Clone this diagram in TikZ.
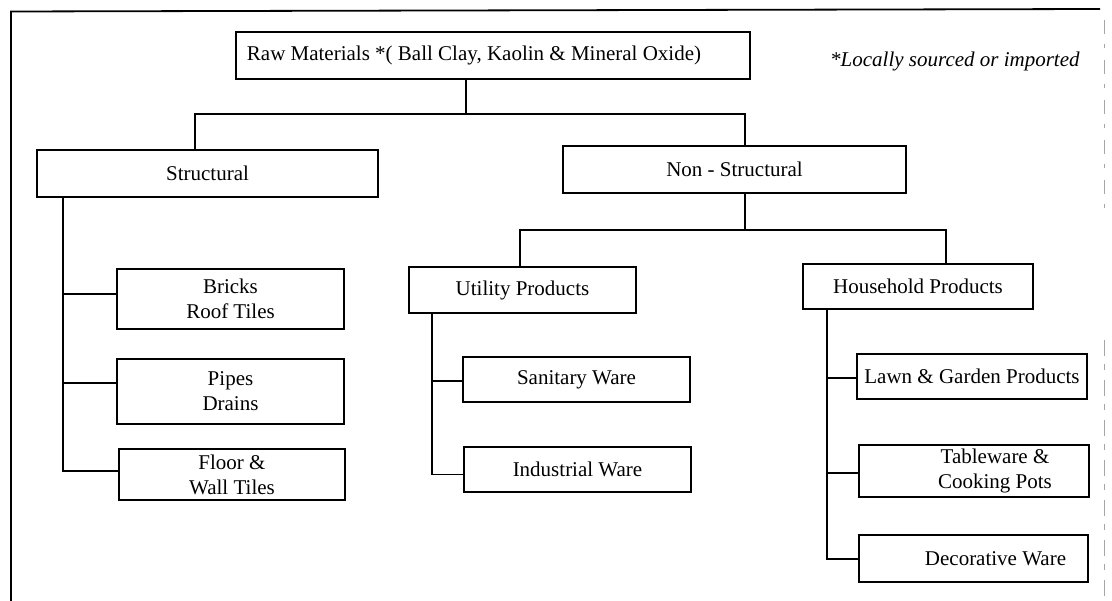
\documentclass[tikz,border=0pt]{standalone}
\usepackage{fontspec}
\setmainfont{Liberation Serif}
\begin{document}
\begin{tikzpicture}[x=1pt,y=-1pt,
  box/.style={draw, line width=1.8pt, inner sep=0pt, outer sep=0pt, align=center,
    font=\fontsize{21}{25}\selectfont},
  link/.style={line width=1.8pt},
  frame/.style={line width=1.8pt}]
\useasboundingbox (0,0) rectangle (1112,601);
% frame
\draw[frame] (11,601) -- (11,11.5) -- (1100,9);
\draw[line width=1pt, gray!70, dash pattern=on 14pt off 10pt on 4pt off 12pt] (1104,20) -- (1104,215);
\draw[line width=1pt, gray!70, dash pattern=on 16pt off 8pt on 6pt off 10pt] (1104,340) -- (1104,601);
% nodes
\node[box, minimum width=514pt, minimum height=47pt] (raw) at (493,55.5)
  {\hspace*{-38pt}Raw Materials *( Ball Clay, Kaolin \& Mineral Oxide)};
\node[anchor=base west, inner sep=0pt, font=\fontsize{21}{25}\selectfont\itshape] (note) at (830,67)
  {*Locally sourced or imported};
\node[box, minimum width=341pt, minimum height=47pt] (struct) at (207.5,173.5) {Structural};
\node[box, minimum width=343pt, minimum height=47pt] (nonst) at (734.5,169.5) {Non - Structural};
\node[box, minimum width=227pt, minimum height=46pt] (util) at (522.5,290) {Utility Products};
\node[box, minimum width=230pt, minimum height=45pt] (house) at (918,286.5) {Household Products};
\node[box, minimum width=227pt, minimum height=60pt] (bricks) at (230.5,299) {Bricks\\Roof Tiles};
\node[box, minimum width=227pt, minimum height=65pt] (pipes) at (230.5,391.5) {Pipes\\Drains};
\node[box, minimum width=226pt, minimum height=51pt] (floor) at (232,474.5) {Floor \&\\Wall Tiles};
\node[box, minimum width=227pt, minimum height=45pt] (sanit) at (576.5,379.5) {Sanitary Ware};
\node[box, minimum width=227pt, minimum height=45pt] (indus) at (577.5,469.5) {Industrial Ware};
\node[box, minimum width=230pt, minimum height=45pt] (lawn) at (972,376.5) {Lawn \& Garden Products};
\node[box, minimum width=230pt, minimum height=52pt] (table) at (974,471) {\hspace*{42pt}Tableware \&\\\hspace*{42pt}Cooking Pots};
\node[box, minimum width=229pt, minimum height=47pt] (deco) at (973.5,558.5) {\hspace*{44pt}Decorative Ware};
% junction coordinates
\coordinate (j1) at (466,114);
\coordinate (j1L) at (195,114);
\coordinate (j1R) at (745,114);
\coordinate (j2) at (745,230);
\coordinate (j2L) at (520,230);
\coordinate (j2R) at (946,230);
\coordinate (sv) at (63,0);
\coordinate (uv) at (432,0);
\coordinate (hv) at (827,0);
\coordinate (bw) at ([yshift=5pt]bricks.west);
\coordinate (pw) at ([yshift=8.5pt]pipes.west);
\coordinate (fw) at ([yshift=3.5pt]floor.west);
\coordinate (iw) at ([yshift=-5pt]indus.west);
\coordinate (sw) at ([yshift=-1.5pt]sanit.west);
\coordinate (lw) at ([yshift=-1.5pt]lawn.west);
\coordinate (tw) at ([yshift=-2pt]table.west);
\coordinate (dw) at ([yshift=-0.5pt]deco.west);
% connectors
\draw[link] (raw.south -| j1) -- (j1);
\draw[link] (struct.north -| j1L) -- (j1L) -- (j1R) -- (nonst.north -| j1R);
\draw[link] (nonst.south -| j2) -- (j2);
\draw[link] (util.north -| j2L) -- (j2L) -- (j2R) -- (house.north -| j2R);
\draw[link] (struct.south -| sv) |- (fw);
\draw[link] (sv |- bw) -- (bw);
\draw[link] (sv |- pw) -- (pw);
\draw[link] (util.south -| uv) |- (iw);
\draw[link] (uv |- sw) -- (sw);
\draw[link] (house.south -| hv) |- (dw);
\draw[link] (hv |- lw) -- (lw);
\draw[link] (hv |- tw) -- (tw);
\end{tikzpicture}
\end{document}
